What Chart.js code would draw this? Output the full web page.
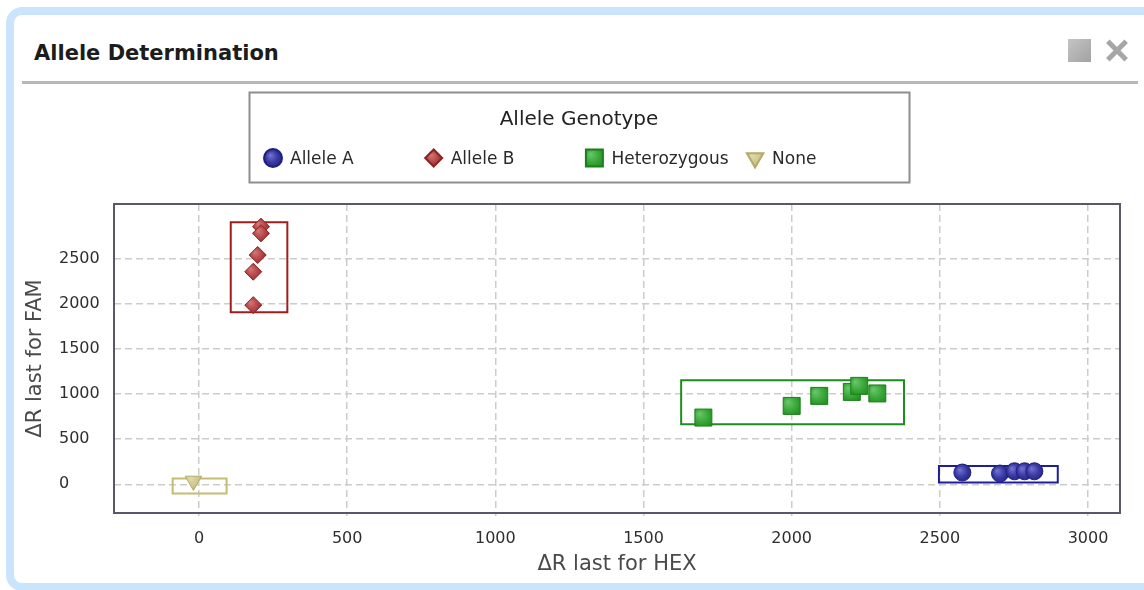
<!DOCTYPE html>
<html>
<head>
<meta charset="utf-8">
<title>Allele Determination</title>
<script src="https://cdn.jsdelivr.net/npm/chart.js@4.4.1/dist/chart.umd.min.js"></script>
<style>
    html, body { margin: 0; padding: 0; width: 1144px; height: 590px; overflow: hidden; background: #fff; font-family: "DejaVu Sans", sans-serif; }
    .panel { position: absolute; left: 6px; top: 7px; width: 1180px; height: 584px; box-sizing: border-box; border: 8px solid #c9e4fb; border-radius: 16px; background: #fff; }
    .panel-title { position: absolute; left: 34px; top: 40px; font-size: 21px; line-height: 26px; font-weight: bold; color: #1c1c1c; }
    .panel-rule { position: absolute; left: 22px; top: 81px; width: 1116px; height: 3px; background: #b8b8b8; }
    .btn-max { position: absolute; left: 1068px; top: 39px; width: 23px; height: 23px; background: linear-gradient(135deg, #c4c4c4, #a2a2a2); }
    .btn-close { position: absolute; left: 1106px; top: 40px; width: 22px; height: 22px; }
    .btn-close::before, .btn-close::after { content: ""; position: absolute; left: -2px; top: 8px; width: 26px; height: 5px; background: #a6a6a6; }
    .btn-close::before { transform: rotate(45deg); }
    .btn-close::after { transform: rotate(-45deg); }
    #allele { position: absolute; left: 0; top: 0; }
</style>
</head>
<body>
<div class="panel"></div>
<div class="panel-title">Allele Determination</div>
<div class="panel-rule"></div>
<div class="btn-max"></div>
<div class="btn-close"></div>
<canvas id="allele" width="1144" height="590"></canvas>

<script>
// genotype groups
const seriesNames = ['Allele A', 'Allele B', 'Heterozygous', 'None'];
const legendTitle = 'Allele Genotype';

// ΔR last for HEX (x) / ΔR last for FAM (y) per well
const alleleAX = [2576, 2703, 2752, 2786, 2819];
const alleleAY = [130, 119, 144, 144, 144];
const alleleBX = [209, 209, 198, 183, 183];
const alleleBY = [2853, 2779, 2539, 2354, 1984];
const hetX = [1702, 2000, 2093, 2203, 2228, 2289];
const hetY = [739, 868, 979, 1023, 1090, 1006];
const noneX = [-19];
const noneY = [37];

// cluster boxes: [xMin, xMax, yMin, yMax]
const boxA = [2497, 2898, 19, 203];
const boxB = [107, 298, 1904, 2901];
const boxHet = [1627, 2379, 665, 1153];
const boxNone = [-89, 93, -103, 63];

// axes
const xRange = [-287, 3108];
const yRange = [-318, 3104];
const xTickValues = [0, 500, 1000, 1500, 2000, 2500, 3000];
const yTickValues = [0, 500, 1000, 1500, 2000, 2500];
const xTitle = 'ΔR last for HEX';
const yTitle = 'ΔR last for FAM';

const styles = [
    { point: 'circle', radius: 8.5, rotation: 0, light: '#7676d2', base: '#3b3ba6', dark: '#1f1f7e', box: '#1e1e98' },
    { point: 'rectRot', radius: 8.5, rotation: 0, light: '#d47a7a', base: '#b44646', dark: '#8c2323', box: '#a11c1c' },
    { point: 'rect', radius: 12, rotation: 0, light: '#6cc86c', base: '#33a333', dark: '#1a7f1a', box: '#1f8c1f' },
    { point: 'triangle', radius: 9.5, rotation: 180, light: '#e2dcaa', base: '#cfc78e', dark: '#b3ab6a', box: '#c4bc72' }
];

Chart.defaults.font.family = '"DejaVu Sans", sans-serif';

// shaded fill for each marker, centred on the point's pixel position
function glossy(st) {
    return (ctx) => {
        const chart = ctx.chart;
        if (ctx.type !== 'data' || !ctx.parsed || !chart.scales.x) return st.base;
        const px = chart.scales.x.getPixelForValue(ctx.parsed.x);
        const py = chart.scales.y.getPixelForValue(ctx.parsed.y);
        if (!isFinite(px) || !isFinite(py)) return st.base;
        const r = st.radius;
        const g = chart.ctx.createRadialGradient(px - r * 0.35, py - r * 0.35, 0, px, py, r * 1.2);
        g.addColorStop(0, st.light);
        g.addColorStop(0.55, st.base);
        g.addColorStop(1, st.dark);
        return g;
    };
}

function pointSet(i, xs, ys) {
    const st = styles[i];
    return {
        label: seriesNames[i],
        data: xs.map((x, k) => ({ x: x, y: ys[k] })),
        pointStyle: st.point,
        pointRadius: st.radius,
        pointHoverRadius: st.radius,
        pointRotation: st.rotation,
        backgroundColor: glossy(st),
        borderColor: st.dark,
        borderWidth: 1,
        order: 1
    };
}

function boxSet(i, b) {
    return {
        type: 'line',
        label: seriesNames[i] + ' cluster',
        data: [
            { x: b[0], y: b[2] }, { x: b[1], y: b[2] },
            { x: b[1], y: b[3] }, { x: b[0], y: b[3] }, { x: b[0], y: b[2] }
        ],
        borderColor: styles[i].box,
        borderWidth: 2,
        borderJoinStyle: 'miter',
        borderCapStyle: 'square',
        pointRadius: 0,
        pointHoverRadius: 0,
        fill: false,
        tension: 0,
        showLine: true,
        order: 2
    };
}

// frame around the plot, the y title and the boxed legend
const decorations = {
    id: 'decorations',
    afterDraw(chart) {
        const ctx = chart.ctx;
        const a = chart.chartArea;
        ctx.save();

        ctx.strokeStyle = '#58586a';
        ctx.lineWidth = 2;
        ctx.strokeRect(a.left, a.top, a.right - a.left, a.bottom - a.top);

        ctx.fillStyle = '#4a4a4a';
        ctx.font = '21px "DejaVu Sans", sans-serif';
        ctx.textAlign = 'center';
        ctx.textBaseline = 'middle';
        ctx.translate(36, (a.top + a.bottom) / 2);
        ctx.rotate(-Math.PI / 2);
        ctx.fillText(yTitle, 0, 0);
        ctx.setTransform(1, 0, 0, 1, 0, 0);

        // legend
        ctx.strokeStyle = '#8e8e8e';
        ctx.lineWidth = 2;
        ctx.strokeRect(249.5, 92.5, 660, 90);
        ctx.fillStyle = '#222';
        ctx.font = '20px "DejaVu Sans", sans-serif';
        ctx.fillText(legendTitle, 579, 120);

        ctx.font = '17px "DejaVu Sans", sans-serif';
        ctx.textAlign = 'left';
        seriesNames.forEach((name, i) => {
            const st = styles[i];
            const cx = 273 + i * 160.7;
            const cy = 158;
            const r = st.radius;
            const g = ctx.createRadialGradient(cx - r * 0.35, cy - r * 0.35, 0, cx, cy, r * 1.2);
            g.addColorStop(0, st.light);
            g.addColorStop(0.55, st.base);
            g.addColorStop(1, st.dark);
            ctx.fillStyle = g;
            ctx.strokeStyle = st.dark;
            Chart.helpers.drawPoint(ctx, {
                pointStyle: st.point, radius: r + (i === 0 ? 0.5 : 0), rotation: st.rotation, borderWidth: 1
            }, cx, cy);
            ctx.fillStyle = '#2a2a2a';
            ctx.textBaseline = 'middle';
            ctx.fillText(name, cx + 17, cy + 1.5);
        });
        ctx.restore();
    }
};

const plainNumber = (v) => String(v);

const chart = new Chart(document.getElementById('allele'), {
    type: 'scatter',
    data: {
        datasets: [
            pointSet(0, alleleAX, alleleAY),
            pointSet(1, alleleBX, alleleBY),
            pointSet(2, hetX, hetY),
            pointSet(3, noneX, noneY),
            boxSet(0, boxA),
            boxSet(1, boxB),
            boxSet(2, boxHet),
            boxSet(3, boxNone)
        ]
    },
    options: {
        responsive: false,
        animation: false,
        events: [],
        layout: { padding: { left: 59, top: 204, right: 24, bottom: 0 } },
        plugins: {
            legend: { display: false },
            tooltip: { enabled: false }
        },
        scales: {
            x: {
                type: 'linear',
                min: xRange[0],
                max: xRange[1],
                afterBuildTicks: (s) => { s.ticks = xTickValues.map(v => ({ value: v })); },
                afterFit: (s) => { s.height = 77; },
                grid: { color: '#cccccc', lineWidth: 1.5, drawTicks: true, tickLength: 3, tickColor: '#cccccc' },
                border: { display: false, dash: [7, 4] },
                ticks: { color: '#2e2e2e', font: { size: 16 }, padding: 13, maxRotation: 0, callback: plainNumber },
                title: { display: true, text: xTitle, color: '#4a4a4a', font: { size: 21 }, padding: { top: 0, bottom: 13 } }
            },
            y: {
                type: 'linear',
                min: yRange[0],
                max: yRange[1],
                afterBuildTicks: (s) => { s.ticks = yTickValues.map(v => ({ value: v })); },
                afterFit: (s) => { s.width = 55; },
                grid: { color: '#cccccc', lineWidth: 1.5, drawTicks: false },
                border: { display: false, dash: [7, 4] },
                ticks: { color: '#2e2e2e', font: { size: 16 }, crossAlign: 'far', padding: 0, callback: plainNumber }
            }
        }
    },
    plugins: [decorations]
});
</script>
</body>
</html>
